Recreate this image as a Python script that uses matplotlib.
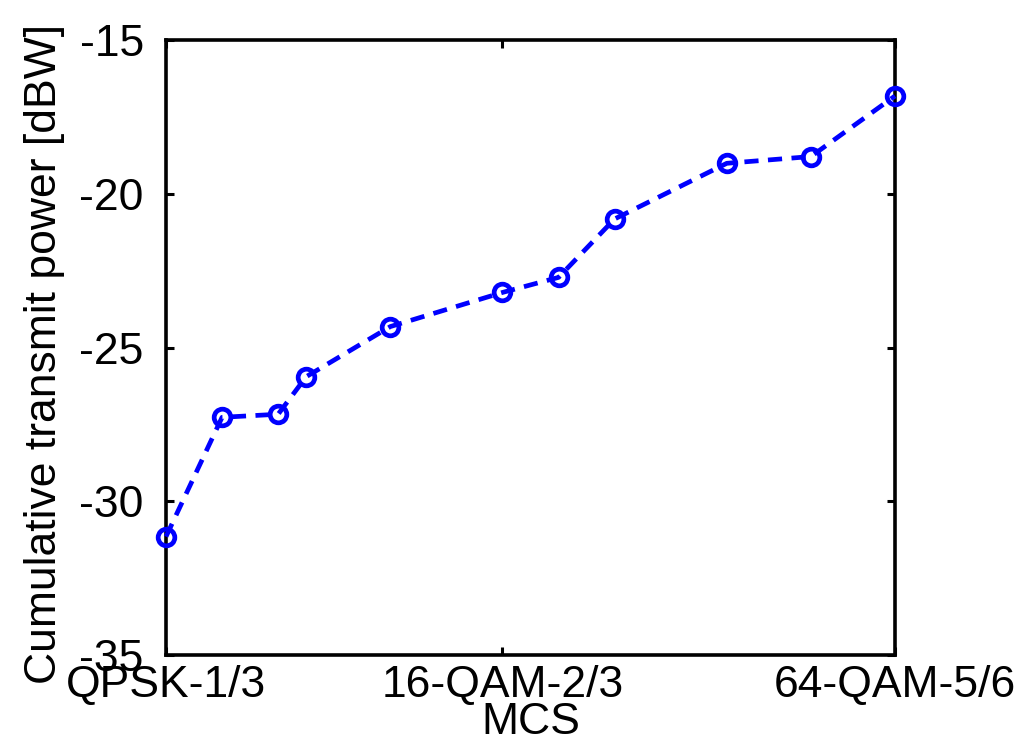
import matplotlib
matplotlib.use("Agg")
import matplotlib.pyplot as plt

plt.rcParams['font.family'] = ['Liberation Sans', 'DejaVu Sans']

# Spectral efficiency (bits/symbol * code rate) of each MCS
mcs_eff = [0.6667, 1.0, 1.3333, 1.5, 2.0, 2.6667, 3.0, 3.3333, 4.0, 4.5, 5.0]
power_dbw = [-31.15, -27.27, -27.17, -25.95, -24.32, -23.21, -22.72, -20.82, -19.01, -18.79, -16.82]

xtick_pos = [0.6667, 2.6667, 5.0]
xtick_labels = ['QPSK-1/3', '16-QAM-2/3', '64-QAM-5/6']
ytick_pos = [-35, -30, -25, -20, -15]

fig = plt.figure(figsize=(10.19, 7.44), dpi=100)
ax = fig.add_axes([166/1019, 1-655/744, (895-166)/1019, (655-40)/744])

ax.plot(mcs_eff, power_dbw, color='#0000ff', linestyle=(0, (3, 2)), linewidth=3.4,
        marker='o', markersize=12, markerfacecolor='none', markeredgewidth=3.4,
        markeredgecolor='#0000ff', clip_on=False, zorder=3)

ax.set_xlim(0.6667, 5.0)
ax.set_ylim(-35, -15)
ax.set_xticks(xtick_pos)
ax.set_xticklabels(xtick_labels)
ax.set_yticks(ytick_pos)
ax.set_yticklabels([str(v) for v in ytick_pos])

for s in ax.spines.values():
    s.set_linewidth(2.6)
    s.set_color('black')

ax.tick_params(axis='both', which='major', direction='in', length=6, width=2.2,
               top=True, right=True, labelsize=32, colors='black')
ax.tick_params(axis='y', pad=16)
ax.tick_params(axis='x', pad=7)

ax.set_xlabel('MCS', fontsize=32)
ax.set_ylabel('Cumulative transmit power [dBW]', fontsize=32)
ax.xaxis.set_label_coords(0.5, -0.077)
ax.yaxis.set_label_coords(-0.138, 0.49)

fig.savefig('out.png', dpi=100)
